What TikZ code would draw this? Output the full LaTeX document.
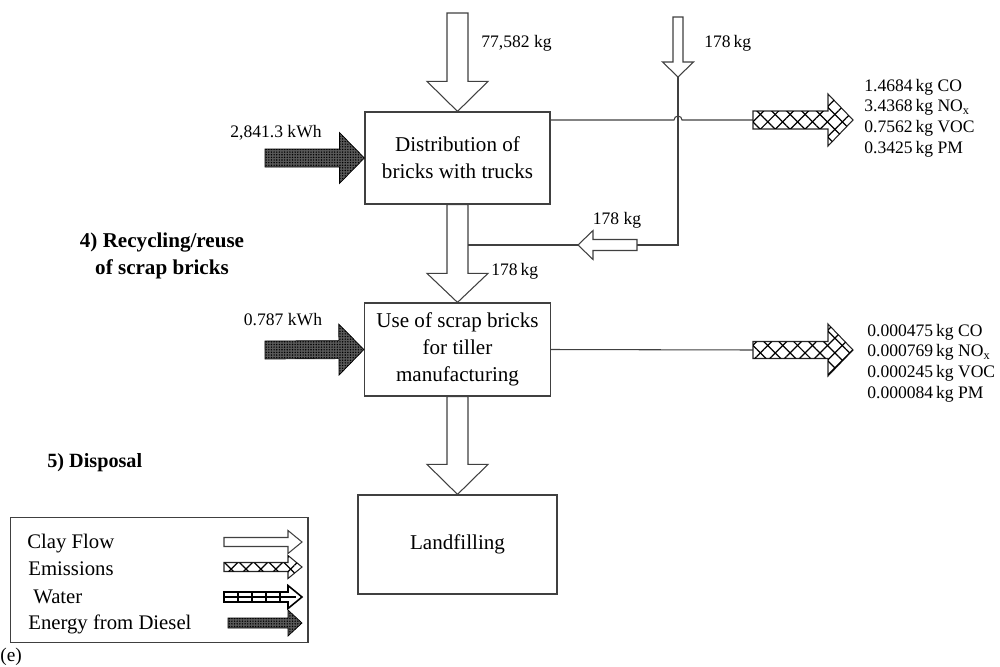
\documentclass[tikz,border=0pt]{standalone}
\usepackage{fontspec}
\setmainfont{Liberation Serif}
\usetikzlibrary{calc, positioning, patterns.meta}

% block arrow: [style]{from}{to}{half shaft}{half head}{head length}
\newcommand{\blockarrow}[6][]{%
  \coordinate (ba-h) at ($(#3)!#6!(#2)$);
  \draw[#1] ($(#2)!#4!90:(#3)$) -- ($(ba-h)!#4!-90:(#2)$) -- ($(ba-h)!#5!-90:(#2)$) -- (#3)
    -- ($(ba-h)!#5!90:(#2)$) -- ($(ba-h)!#4!90:(#2)$) -- ($(#2)!#4!-90:(#3)$) -- cycle;
}

\begin{document}
\begin{tikzpicture}[x=0.02cm, y=-0.02cm,
    procbox/.style={draw=black!75, line width=0.7pt, align=center, inner sep=0pt,
      font=\fontsize{12}{15.4}\selectfont},
    clayflow/.style={draw=black!75, line width=0.6pt, fill=white},
    emission/.style={draw=black!85, line width=0.6pt, fill=white,
      postaction={pattern={Lines[angle=45, distance=6pt, line width=0.7pt]}},
      postaction={pattern={Lines[angle=-45, distance=6pt, line width=0.7pt]}}},
    diesel/.style={fill=black!65,
      postaction={pattern={Dots[distance=1.5pt, radius=0.45pt]}}},
    flowline/.style={draw=black!75, line width=0.6pt},
    qty/.style={font=\fontsize{10}{12}\selectfont, inner sep=0pt},
    emlist/.style={font=\fontsize{10}{11.8}\selectfont, align=left, anchor=west, inner sep=0pt},
    stage/.style={font=\bfseries\fontsize{12}{15.4}\selectfont, align=center, inner sep=0pt},
    legtext/.style={font=\fontsize{11.8}{14}\selectfont, anchor=west, inner sep=0pt}]
    \useasboundingbox (0,0) rectangle (1000,666);

    % process boxes
    \node[procbox, minimum width=3.7cm, minimum height=1.84cm] (dist) at (457.5,158) {Distribution of\\bricks with trucks};
    \node[procbox, minimum width=3.72cm, minimum height=1.86cm] (use) at (457.5,349.5) {Use of scrap bricks\\for tiller\\manufacturing};
    \node[procbox, minimum width=3.98cm, minimum height=1.98cm] (land) at (457.5,544.5) {Landfilling};

    % free ends of the flows
    \coordinate (clayin) at (457.5,13);
    \coordinate (scrapin) at (678,17);
    \coordinate (rin) at (678,77);
    \coordinate (rtail) at (637,245);
    \coordinate (rtip) at (578,245);
    \coordinate (rjoin) at (468,245);
    \coordinate (en1) at (265,158);
    \coordinate (en2) at (265,350);
    \coordinate (e1tail) at (753,120);
    \coordinate (e1tip) at (853,120);
    \coordinate (e1from) at (dist.east |- e1tail);
    \coordinate (e2tail) at (753,350);
    \coordinate (e2tip) at (853,350);

    % clay flows
    \blockarrow[clayflow]{clayin}{dist.north}{0.21cm}{0.61cm}{0.6cm}
    \blockarrow[clayflow]{scrapin}{rin}{0.1cm}{0.31cm}{0.3cm}
    \blockarrow[clayflow]{rtail}{rtip}{0.11cm}{0.29cm}{0.3cm}
    \blockarrow[clayflow]{dist.south}{use.north}{0.21cm}{0.61cm}{0.58cm}
    \blockarrow[clayflow]{use.south}{land.north}{0.21cm}{0.61cm}{0.6cm}

    % return loop
    \draw[flowline] (rin) |- (rtail);
    \draw[flowline] (rtip) -- (rjoin);

    % energy from diesel
    \blockarrow[diesel]{en1}{dist.west}{0.18cm}{0.51cm}{0.5cm}
    \blockarrow[diesel]{en2}{use.west}{0.18cm}{0.51cm}{0.5cm}

    % emissions
    \draw[flowline] (e1from) -- ($(rin |- e1tail)+(-4,0)$) arc[start angle=180, end angle=0, radius=0.08cm] -- (e1tail);
    \draw[flowline] (use.east) -- (e2tail);
    \blockarrow[emission]{e1tail}{e1tip}{0.18cm}{0.52cm}{0.5cm}
    \blockarrow[emission]{e2tail}{e2tip}{0.17cm}{0.52cm}{0.5cm}

    % labels
    \node[qty, anchor=west] (l1) at (481,43) {77,582 kg};
    \node[qty, anchor=west] (l2) at (704,43) {178\,kg};
    \node[qty] (l3) at (617,220) {178 kg};
    \node[qty, anchor=west] (l4) at (491,271) {178\,kg};
    \node[qty] (k1) at (276,133) {2,841.3 kWh};
    \node[qty] (k2) at (283,320) {0.787 kWh};
    \node[emlist] (em1) at (864,118) {1.4684\,kg CO\\3.4368\,kg NO\textsubscript{x}\\0.7562\,kg VOC\\0.3425\,kg PM};
    \node[emlist] (em2) at (867,363) {0.000475\,kg CO\\0.000769\,kg NO\textsubscript{x}\\0.000245\,kg VOC\\0.000084\,kg PM};

    % life cycle stages
    \node[stage] (s4) at (162,256) {4) Recycling/reuse\\of scrap bricks};
    \node[stage, anchor=west, font=\bfseries\fontsize{11.5}{14}\selectfont] (s5) at (47,463) {5) Disposal};

    % legend
    \node[draw=black!75, line width=0.6pt, minimum width=5.96cm, minimum height=2.5cm] (legend) at (159,580) {};
    \node[legtext] (lg1) at (27,544) {Clay Flow};
    \node[legtext] (lg2) at (28,569) {Emissions};
    \node[legtext] (lg3) at (33,597) {Water};
    \node[legtext] (lg4) at (28,624) {Energy from Diesel};
    \coordinate (c1a) at (224,542); \coordinate (c1b) at (302,542);
    \coordinate (c2a) at (224,567); \coordinate (c2b) at (302,567);
    \coordinate (c3a) at (224,597); \coordinate (c3b) at (302,597);
    \coordinate (c4a) at (228,623); \coordinate (c4b) at (302,623);
    \blockarrow[clayflow]{c1a}{c1b}{0.09cm}{0.23cm}{0.28cm}
    \blockarrow[emission]{c2a}{c2b}{0.09cm}{0.23cm}{0.28cm}
    \blockarrow[clayflow, draw=black, line width=0.9pt]{c3a}{c3b}{0.1cm}{0.23cm}{0.28cm}
    \draw[line width=1.4pt] (c3a) -- ($(c3b)+(-6,0)$);
    \foreach \tx in {238,252,266,280}
      \draw[line width=0.8pt] (\tx,592) -- (\tx,602);
    \blockarrow[diesel]{c4a}{c4b}{0.1cm}{0.26cm}{0.28cm}

    \node[legtext, font=\fontsize{11}{13}\selectfont] (tag) at (0,657) {(e)};
\end{tikzpicture}
\end{document}
